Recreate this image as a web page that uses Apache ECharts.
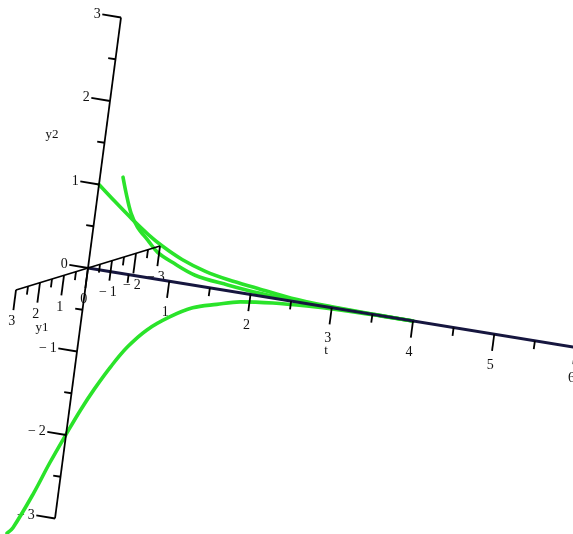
<!DOCTYPE html>
<html>
<head>
<meta charset="utf-8">
<script src="https://cdn.jsdelivr.net/npm/echarts@6/dist/echarts.min.js"></script>
<style>
  html, body { margin: 0; padding: 0; background: #ffffff; }
  #chart { width: 573px; height: 534px; }
</style>
</head>
<body>
<div id="chart"></div>
<script>
// ---- Solution curves of the system, sampled as (t, y1, y2) ----
const curveA_t  = [0, 0.22, 0.45, 0.67, 0.86, 1.12, 1.42, 1.71, 2.08, 2.5, 3.0, 3.5, 4.0];
const curveA_y1 = [0, 0, 0, 0, 0, 0, 0, 0, 0, 0, 0, 0, 0];
const curveA_y2 = [1, 0.83, 0.66, 0.51, 0.40, 0.28, 0.185, 0.13, 0.085, 0.035, 0.012, 0.003, 0];

const curveB_t  = [0, 0.12, 0.27, 0.41, 0.59, 0.75, 0.96, 1.28, 1.70, 2.11, 2.6, 3.1, 3.6, 4.0];
const curveB_y1 = [-1, -0.79, -0.58, -0.44, -0.31, -0.22, -0.15, -0.077, -0.033, -0.015, -0.006, -0.002, -0.001, 0];
const curveB_y2 = [1, 0.85, 0.65, 0.515, 0.40, 0.29, 0.21, 0.11, 0.064, 0.03, 0.01, 0.003, 0.001, 0];

const curveC_t  = [0, 0.03, 0.13, 0.21, 0.31, 0.39, 0.48, 0.60, 0.73, 0.90, 1.12, 1.36, 1.63, 1.90, 2.29, 2.70, 3.1, 3.6, 4.0];
const curveC_y1 = [2, 1.88, 1.54, 1.31, 1.07, 0.92, 0.77, 0.60, 0.47, 0.33, 0.21, 0.13, 0.077, 0.045, 0.02, 0.009, 0.004, 0.0015, 0];
const curveC_y2 = [-3, -2.94, -2.54, -2.19, -1.82, -1.56, -1.31, -1.03, -0.79, -0.57, -0.39, -0.25, -0.17, -0.10, -0.054, -0.026, -0.01, -0.002, 0];

// ---- Axis ranges and ticks ----
const tRange  = [0, 6];
const y1Range = [-3, 3];
const y2Range = [-3, 3];
const tMajor  = [1, 2, 3, 4, 5, 6];
const tMinor  = [0.5, 1.5, 2.5, 3.5, 4.5, 5.5];
const y1Major = [3, 2, 1, 0, -1, -2, -3];
const y1Minor = [2.5, 1.5, 0.5, -0.5, -1.5, -2.5];
const y2Major = [3, 2, 1, 0, -1, -2, -3];
const y2Minor = [2.5, 1.5, 0.5, -0.5, -1.5, -2.5];
const tLabels  = ['1', '2', '3', '4', '5', '6'];
const y1Labels = ['3', '2', '1', '0', '\u2212\u20091', '\u2212\u20092', '\u2212\u20093'];
const y2Labels = ['3', '2', '1', '0', '\u2212\u20091', '\u2212\u20092', '\u2212\u20093'];

// ---- Orthographic view: page offset (px) of one unit step along each axis ----
const STEP = { t: [81.25, 13.25], y1: [-24, 7.33], y2: [11, -83.5] };
function project(t, y1, y2) {
  return [
    t * STEP.t[0] + y1 * STEP.y1[0] + y2 * STEP.y2[0],
    t * STEP.t[1] + y1 * STEP.y1[1] + y2 * STEP.y2[1]
  ];
}
function curve(ts, a, b) { return ts.map((t, i) => project(t, a[i], b[i])); }
function seg(p, q) { return { coords: [project(p[0], p[1], p[2]), project(q[0], q[1], q[2])] }; }

const GREEN = '#2ae32a';
const SERIF = '"Liberation Serif", "DejaVu Serif", serif';

// axis lines
const axisSegs = [
  seg([0, y1Range[0], 0], [0, y1Range[1], 0]),
  seg([0, 0, y2Range[0]], [0, 0, y2Range[1]])
];
const tAxisSeg = [seg([tRange[0], 0, 0], [tRange[1], 0, 0])];

// tick marks
const tickSegs = [];
tMajor.forEach(k => tickSegs.push(seg([k, 0, 0], [k, 0, -0.2])));
tMinor.forEach(k => tickSegs.push(seg([k, 0, 0], [k, 0, -0.1])));
y1Major.forEach(k => tickSegs.push(seg([0, k, 0], [0, k, -0.24])));
y1Minor.forEach(k => tickSegs.push(seg([0, k, 0], [0, k, -0.1])));
y2Major.forEach(k => tickSegs.push(seg([0, 0, k], [-0.23, 0, k])));
y2Minor.forEach(k => tickSegs.push(seg([0, 0, k], [-0.09, 0, k])));

// text labels
const labels = [];
tMajor.forEach((k, i) => labels.push({ pos: project(k, 0, -0.37), text: tLabels[i], align: 'center', size: 14 }));
y1Major.forEach((k, i) => labels.push({ pos: project(0, k, -0.38), text: y1Labels[i], align: 'center', size: 14 }));
y2Major.forEach((k, i) => labels.push({ pos: project(-0.25, 0, k), text: y2Labels[i], align: 'right', size: 14 }));
labels.push({ pos: project(3, 0, -0.515), text: 't', align: 'center', size: 13 });
labels.push({ pos: project(0, 1.655, -0.573), text: 'y1', align: 'center', size: 13 });
labels.push({ pos: project(-0.645, 0, 1.49), text: 'y2', align: 'center', size: 13 });

const chart = echarts.init(document.getElementById('chart'), null, { renderer: 'canvas' });

const lineCurve = (data) => ({
  type: 'line',
  data: data,
  smooth: 0.35,
  showSymbol: false,
  symbol: 'none',
  silent: true,
  z: 2,
  lineStyle: { color: GREEN, width: 3.6, cap: 'round' }
});

chart.setOption({
  animation: false,
  backgroundColor: '#ffffff',
  grid: { left: 0, right: 0, top: 0, bottom: 0 },
  xAxis: { type: 'value', min: -88, max: 485, show: false },
  yAxis: { type: 'value', min: -268, max: 266, inverse: true, show: false },
  series: [
    {
      type: 'custom',
      coordinateSystem: 'cartesian2d',
      silent: true,
      z: 1,
      data: labels.map(l => l.pos),
      renderItem: (params, api) => {
        const L = labels[params.dataIndex];
        const p = api.coord(L.pos);
        return {
          type: 'text',
          x: p[0],
          y: p[1],
          style: {
            text: L.text,
            align: L.align,
            verticalAlign: 'middle',
            font: L.size + 'px ' + SERIF,
            fill: '#111111'
          }
        };
      }
    },
    lineCurve(curve(curveA_t, curveA_y1, curveA_y2)),
    lineCurve(curve(curveB_t, curveB_y1, curveB_y2)),
    lineCurve(curve(curveC_t, curveC_y1, curveC_y2)),
    {
      type: 'lines',
      coordinateSystem: 'cartesian2d',
      silent: true,
      z: 4,
      data: tAxisSeg,
      lineStyle: { color: '#16163f', width: 3, opacity: 1, curveness: 0 }
    },
    {
      type: 'lines',
      coordinateSystem: 'cartesian2d',
      silent: true,
      z: 5,
      data: axisSegs.concat(tickSegs),
      lineStyle: { color: '#000000', width: 1.8, opacity: 1, curveness: 0 }
    }
  ]
});
</script>
</body>
</html>
